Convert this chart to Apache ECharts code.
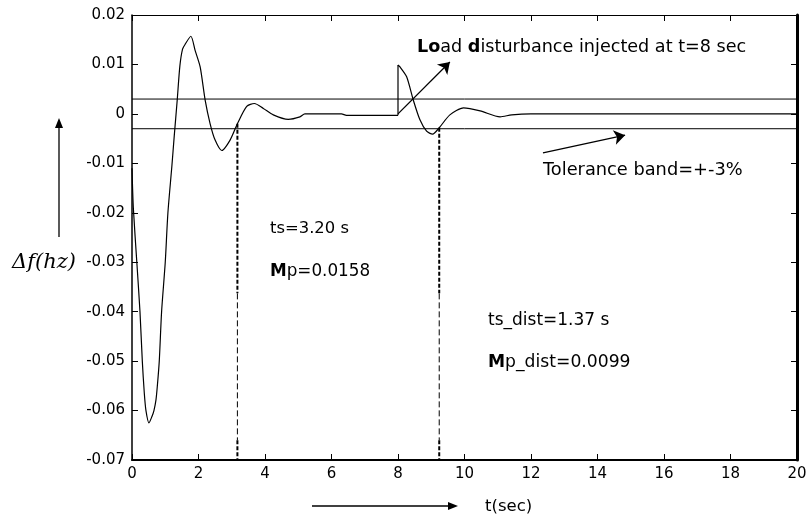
<!DOCTYPE html>
<html>
<head>
<meta charset="utf-8">
<script src="https://cdn.jsdelivr.net/npm/echarts@6/dist/echarts.min.js"></script>
<style>html,body{margin:0;padding:0;background:#fff}#c{width:808px;height:519px}</style>
</head>
<body>
<div id="c"></div>
<script>
// ---- data ----
var xTicks = {min: 0, max: 20, interval: 2};
var yTicks = {min: -0.07, max: 0.02, interval: 0.01};

// response before the disturbance (t = 0 .. 8 s)
var tPre = [0, 0.04, 0.15, 0.24, 0.31, 0.37, 0.42, 0.51, 0.6, 0.66, 0.72, 0.76, 0.82, 0.89, 1.0, 1.08, 1.2, 1.27, 1.36, 1.44, 1.52, 1.6, 1.77, 1.9, 2.05, 2.2, 2.35, 2.5, 2.7, 2.95, 3.17, 3.45, 3.68, 3.95, 4.25, 4.7, 5.05, 5.2, 6.3, 6.45, 8];
var vPre = [-0.011, -0.019, -0.0305, -0.040, -0.050, -0.0565, -0.060, -0.0625, -0.0612, -0.060, -0.0579, -0.0552, -0.050, -0.040, -0.030, -0.020, -0.0105, -0.0045, 0.0028, 0.0097, 0.0131, 0.0141, 0.0157, 0.0128, 0.0095, 0.0028, -0.002, -0.0053, -0.0074, -0.0053, -0.002, 0.0015, 0.0021, 0.0011, -0.0002, -0.0011, -0.0006, 0, 0, -0.0003, -0.0003];
// step at the disturbance instant
var tJump = [8, 8];
var vJump = [-0.0003, 0.0099];
// response after the disturbance
var tPost = [8, 8.06, 8.26, 8.46, 8.66, 8.86, 9.04, 9.24, 9.56, 9.97, 10.47, 11.07, 11.42, 12, 20];
var vPost = [0.0099, 0.0095, 0.0075, 0.0028, -0.0012, -0.0035, -0.0041, -0.0028, -0.0002, 0.0012, 0.0006, -0.0006, -0.0002, 0, 0];

// tolerance band
var bandUpper = 0.003;
var bandLower = -0.003;
// settling-time markers
var tsTimes = [3.17, 9.24];
var tsTops = [-0.002, -0.0028];
var dashSplit = [-0.0363, -0.066];

// annotation arrows [t0, v0, t1, v1]
var loadArrow = [8, 0, 9.56, 0.0105];
var tolArrow = [12.36, -0.0079, 14.83, -0.0043];

function zip(a, b) { return a.map(function (x, i) { return [x, b[i]]; }); }

var FONT = '"DejaVu Sans", sans-serif';
var black = '#000';

var series = [
  {type: 'line', data: zip(tPre, vPre), smooth: 0.25, symbol: 'none', lineStyle: {color: black, width: 1.2}, z: 5},
  {type: 'line', data: zip(tJump, vJump), symbol: 'none', lineStyle: {color: black, width: 1.2}, z: 5},
  {type: 'line', data: zip(tPost, vPost), smooth: 0.25, symbol: 'none', lineStyle: {color: black, width: 1.2}, z: 5},
  {type: 'line', data: [[xTicks.min, bandUpper], [xTicks.max, bandUpper]], symbol: 'none', lineStyle: {color: black, width: 1}},
  {type: 'line', data: [[xTicks.min, bandLower], [xTicks.max, bandLower]], symbol: 'none', lineStyle: {color: black, width: 1}}
];
tsTimes.forEach(function (t, i) {
  series.push({type: 'line', data: [[t, tsTops[i]], [t, dashSplit[0]]], symbol: 'none',
    lineStyle: {color: black, width: 2, type: [4, 2]}});
  series.push({type: 'line', data: [[t, dashSplit[0]], [t, dashSplit[1]]], symbol: 'none',
    lineStyle: {color: black, width: 1, type: [6, 3]}});
  series.push({type: 'line', data: [[t, dashSplit[1]], [t, yTicks.min]], symbol: 'none',
    lineStyle: {color: black, width: 2, type: [4, 2]}});
});
series.push({
  type: 'lines', coordinateSystem: 'cartesian2d', symbol: ['none', 'arrow'], symbolSize: [0, 11],
  lineStyle: {color: black, width: 1.3, opacity: 1}, z: 6,
  data: [
    {coords: [[loadArrow[0], loadArrow[1]], [loadArrow[2], loadArrow[3]]]},
    {coords: [[tolArrow[0], tolArrow[1]], [tolArrow[2], tolArrow[3]]]}
  ]
});

function axisCommon(extra) {
  var base = {
    type: 'value', splitLine: {show: false},
    axisLine: {show: true, onZero: false, lineStyle: {color: black, width: 1}},
    axisTick: {show: true, inside: true, length: 6, lineStyle: {color: black, width: 1}},
    axisLabel: {show: true, color: black, fontFamily: FONT, fontSize: 15, margin: 7}
  };
  for (var k in extra) base[k] = extra[k];
  return base;
}

var option = {
  animation: false,
  backgroundColor: '#fff',
  grid: {left: 132, right: 11, top: 15, bottom: 59, containLabel: false, outerBoundsMode: 'none'},
  xAxis: [
    axisCommon({position: 'bottom', min: xTicks.min, max: xTicks.max, interval: xTicks.interval,
      axisLine: {show: true, onZero: false, lineStyle: {color: black, width: 2}}}),
    axisCommon({position: 'top', min: xTicks.min, max: xTicks.max, interval: xTicks.interval,
      axisLabel: {show: false}})
  ],
  yAxis: [
    axisCommon({position: 'left', min: yTicks.min, max: yTicks.max, interval: yTicks.interval,
      axisLine: {show: true, onZero: false, lineStyle: {color: black, width: 1.5}}}),
    axisCommon({position: 'right', min: yTicks.min, max: yTicks.max, interval: yTicks.interval,
      axisLabel: {show: false},
      axisLine: {show: true, onZero: false, lineStyle: {color: black, width: 3}}})
  ],
  series: series,
  graphic: [
    {type: 'text', x: 417, y: 47, style: {text: '{b|Lo}ad {b|d}isturbance injected at t=8 sec', fill: black,
      font: '17.6px ' + FONT, verticalAlign: 'middle',
      rich: {b: {fontWeight: 'bold', fontFamily: FONT, fontSize: 17.6}}}},
    {type: 'text', x: 543, y: 170, style: {text: 'Tolerance band=+-3%', fill: black, font: '17.8px ' + FONT, verticalAlign: 'middle'}},
    {type: 'text', x: 270, y: 229, style: {text: 'ts=3.20 s', fill: black, font: '16.4px ' + FONT, verticalAlign: 'middle'}},
    {type: 'text', x: 270, y: 272, style: {text: '{b|M}p=0.0158', fill: black, font: '16.8px ' + FONT, verticalAlign: 'middle',
      rich: {b: {fontWeight: 'bold', fontFamily: FONT, fontSize: 16.8}}}},
    {type: 'text', x: 488, y: 321, style: {text: 'ts_dist=1.37 s', fill: black, font: '17px ' + FONT, verticalAlign: 'middle'}},
    {type: 'text', x: 488, y: 363, style: {text: '{b|M}p_dist=0.0099', fill: black, font: '17.2px ' + FONT, verticalAlign: 'middle',
      rich: {b: {fontWeight: 'bold', fontFamily: FONT, fontSize: 17.2}}}},
    {type: 'text', x: 485, y: 507, style: {text: 't(sec)', fill: black, font: '16.5px ' + FONT, verticalAlign: 'middle'}},
    {type: 'text', x: 12, y: 263, style: {text: 'Δf(hz)', fill: black, font: 'italic 21px "DejaVu Serif", serif', verticalAlign: 'middle'}},
    {type: 'line', shape: {x1: 312, y1: 506, x2: 450, y2: 506}, style: {stroke: black, lineWidth: 1.3}},
    {type: 'polygon', shape: {points: [[458, 506], [448, 502], [448, 510]]}, style: {fill: black}},
    {type: 'line', shape: {x1: 59, y1: 237, x2: 59, y2: 126}, style: {stroke: black, lineWidth: 1.3}},
    {type: 'polygon', shape: {points: [[59, 118], [55, 128], [63, 128]]}, style: {fill: black}}
  ]
};

var chart = echarts.init(document.getElementById('c'), null, {renderer: 'canvas'});
chart.setOption(option);
</script>
</body>
</html>
